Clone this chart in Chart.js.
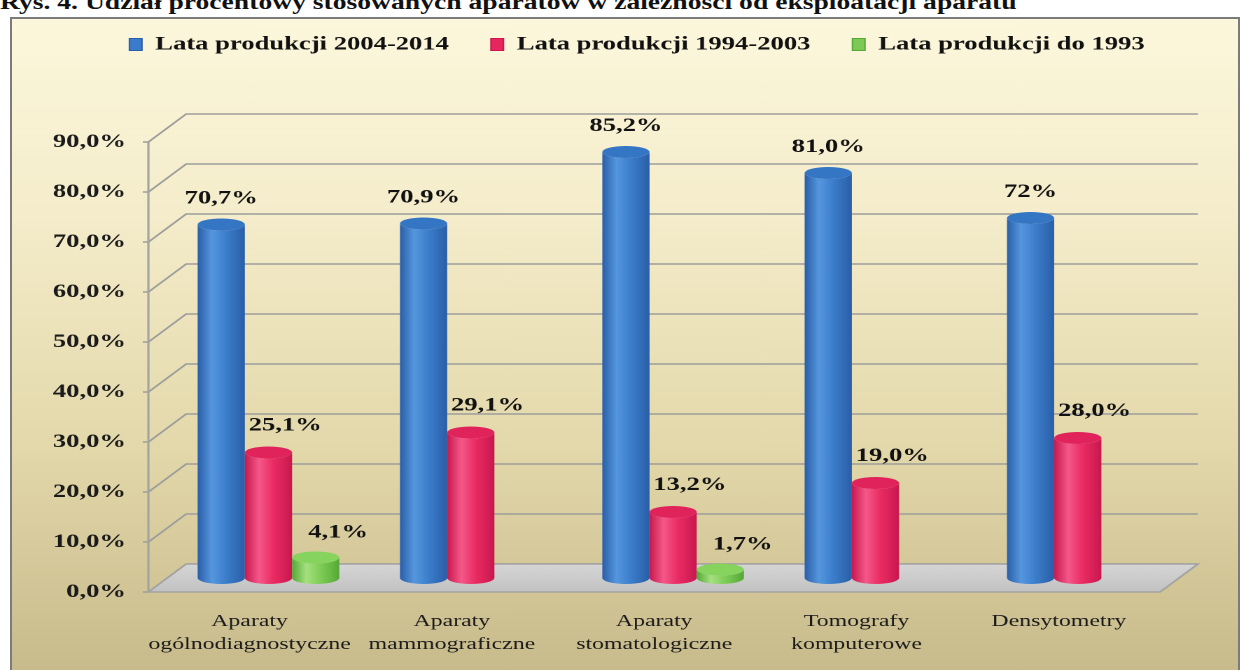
<!DOCTYPE html>
<html>
<head>
<meta charset="utf-8">
<script src="https://cdn.jsdelivr.net/npm/chart.js@4.4.1/dist/chart.umd.min.js"></script>
<style>
    html, body { margin: 0; padding: 0; width: 1245px; height: 670px; overflow: hidden; background: #fff; }
    #caption {
        position: absolute; left: 0; top: -9px; white-space: nowrap;
        font: bold 20px 'Liberation Serif', serif; color: #111;
        transform: scaleX(1.38); transform-origin: 0 0;
    }
    #frame {
        position: absolute; left: 10px; top: 17px; width: 1226px; height: 660px;
        border: 2px solid #7b7b7b;
        background: linear-gradient(to bottom, #fcf7dc 0%, #f4ecca 30%, #e3d8aa 65%, #c6b98a 100%);
    }
    #chart { position: absolute; left: 0; top: 5px; transform: scaleX(1.4); transform-origin: 0 0; }
</style>
</head>
<body>
<div id="caption">Rys. 4. Udział procentowy stosowanych aparatów w zależności od eksploatacji aparatu</div>
<div id="frame"></div>
<canvas id="chart" width="910" height="665"></canvas>
<script>
const categories = [
    ['Aparaty', 'ogólnodiagnostyczne'],
    ['Aparaty', 'mammograficzne'],
    ['Aparaty', 'stomatologiczne'],
    ['Tomografy', 'komputerowe'],
    ['Densytometry'],
];
const seriesNames = ['Lata produkcji 2004-2014', 'Lata produkcji 1994-2003', 'Lata produkcji do 1993'];
const years2004_2014 = [70.7, 70.9, 85.2, 81.0, 72];
const years1994_2003 = [25.1, 29.1, 13.2, 19.0, 28.0];
const yearsTo1993 = [4.1, null, 1.7, null, null];
const labels2004_2014 = ['70,7%', '70,9%', '85,2%', '81,0%', '72%'];
const labels1994_2003 = ['25,1%', '29,1%', '13,2%', '19,0%', '28,0%'];
const labelsTo1993 = ['4,1%', '', '1,7%', '', ''];
const yTicks = [0, 10, 20, 30, 40, 50, 60, 70, 80, 90];

const valueLabels = [labels2004_2014, labels1994_2003, labelsTo1993];

// cylinder colours: edge, highlight, middle, top
const looks = [
    { flat: '#3b7bcc', edge: '#2a5ea8', light: '#5597de', mid: '#3c7ecb', top: '#3476c4', lx: 0, gap: 20 },
    { flat: '#e8265e', edge: '#c8184f', light: '#f5588a', mid: '#ea2c63', top: '#e0235a', lx: 12, gap: 21 },
    { flat: '#7dc957', edge: '#55a836', light: '#a5e080', mid: '#7fcd57', top: '#86d35e', lx: 16, gap: 19 },
];

const DX = 27, DY = -28, RY = 6;
const serif = "'Liberation Serif', 'Times New Roman', serif";

function cylinder(ctx, cx, topY, baseY, rx, look) {
    const g = ctx.createLinearGradient(cx - rx, 0, cx + rx, 0);
    g.addColorStop(0, look.edge);
    g.addColorStop(0.3, look.light);
    g.addColorStop(0.6, look.mid);
    g.addColorStop(1, look.edge);
    ctx.fillStyle = g;
    ctx.beginPath();
    ctx.moveTo(cx - rx, topY);
    ctx.lineTo(cx - rx, baseY);
    ctx.ellipse(cx, baseY, rx, RY, 0, Math.PI, 0, true);
    ctx.lineTo(cx + rx, topY);
    ctx.ellipse(cx, topY, rx, RY, 0, 0, Math.PI, false);
    ctx.fill();
    ctx.fillStyle = look.top;
    ctx.beginPath();
    ctx.ellipse(cx, topY, rx, RY, 0, 0, Math.PI * 2);
    ctx.fill();
}

const box3d = {
    id: 'box3d',
    beforeDatasetsDraw(chart) {
        const { ctx, chartArea: a, scales: { y } } = chart;
        const y0 = y.getPixelForValue(0);
        ctx.save();

        // back wall grid
        ctx.strokeStyle = '#9c9d9b';
        ctx.lineWidth = 1.6;
        yTicks.forEach(v => {
            const py = y.getPixelForValue(v);
            ctx.beginPath();
            ctx.moveTo(a.left - 4, py);
            ctx.lineTo(a.left, py);
            ctx.lineTo(a.left + DX, py + DY);
            ctx.lineTo(a.right + DX, py + DY);
            ctx.stroke();
        });

        // floor
        const fg = ctx.createLinearGradient(0, y0 + DY, 0, y0);
        fg.addColorStop(0, '#d6d6d6');
        fg.addColorStop(1, '#c2c2c2');
        ctx.fillStyle = fg;
        ctx.beginPath();
        ctx.moveTo(a.left, y0);
        ctx.lineTo(a.right, y0);
        ctx.lineTo(a.right + DX, y0 + DY);
        ctx.lineTo(a.left + DX, y0 + DY);
        ctx.closePath();
        ctx.fill();
        ctx.strokeStyle = '#a3a3a1';
        ctx.stroke();

        // front axis
        ctx.beginPath();
        ctx.moveTo(a.left, y0);
        ctx.lineTo(a.left, y.getPixelForValue(90));
        ctx.stroke();

        // cylinders
        const n = chart.data.labels.length;
        for (let j = 0; j < n; j++) {
            chart.data.datasets.forEach((ds, i) => {
                if (ds.data[j] == null) return;
                const el = chart.getDatasetMeta(i).data[j];
                const cx = el.x + DX / 2;
                cylinder(ctx, cx, el.y + DY / 2, el.base + DY / 2, el.width / 2, looks[i]);
            });
        }
        ctx.restore();
        return false;
    },
    afterDraw(chart) {
        const { ctx } = chart;
        ctx.save();
        ctx.font = 'bold 19px ' + serif;
        ctx.fillStyle = '#111';
        ctx.textAlign = 'center';
        ctx.textBaseline = 'middle';
        chart.data.datasets.forEach((ds, i) => {
            chart.getDatasetMeta(i).data.forEach((el, j) => {
                if (ds.data[j] == null) return;
                const look = looks[i];
                ctx.fillText(valueLabels[i][j], el.x + DX / 2 + look.lx, el.y + DY / 2 - RY - look.gap);
            });
        });
        ctx.restore();
    },
};

Chart.defaults.font.family = serif;
Chart.defaults.color = '#111';

new Chart(document.getElementById('chart'), {
    type: 'bar',
    data: {
        labels: categories,
        datasets: [years2004_2014, years1994_2003, yearsTo1993].map((d, i) => ({
            label: seriesNames[i],
            data: d,
            backgroundColor: looks[i].flat,
            borderColor: looks[i].edge,
            borderWidth: 1,
            categoryPercentage: 0.7,
            barPercentage: 1,
        })),
    },
    options: {
        responsive: false,
        devicePixelRatio: 2,
        animation: false,
        layout: { padding: 0 },
        scales: {
            x: {
                grid: { display: false, drawTicks: false },
                border: { display: false },
                ticks: { maxRotation: 0, autoSkip: false, padding: 18, font: { size: 17, lineHeight: 1.35 }, color: '#1a1a1a' },
                afterFit: s => { s.height = 78; },
            },
            y: {
                min: 0,
                max: 90,
                grid: { display: false, drawTicks: false },
                border: { display: false },
                ticks: {
                    stepSize: 10,
                    padding: 16,
                    font: { size: 19, weight: 'bold' },
                    color: '#1a1a1a',
                    callback: v => v.toFixed(1).replace('.', ',') + '%',
                },
                afterFit: s => { s.width = 106; },
            },
            yR: {
                position: 'right',
                grid: { display: false, drawTicks: false },
                border: { display: false },
                ticks: { display: false },
                afterFit: s => { s.width = 81.4; },
            },
        },
        plugins: {
            tooltip: { enabled: false },
            legend: {
                position: 'top',
                labels: { boxWidth: 9, boxHeight: 12, padding: 30, font: { size: 19, weight: 'bold' }, color: '#111' },
            },
            title: { display: true, text: ' ', weight: 500, font: { size: 10 }, padding: { top: 0, bottom: 66 } },
        },
    },
    plugins: [box3d],
});
</script>
</body>
</html>
